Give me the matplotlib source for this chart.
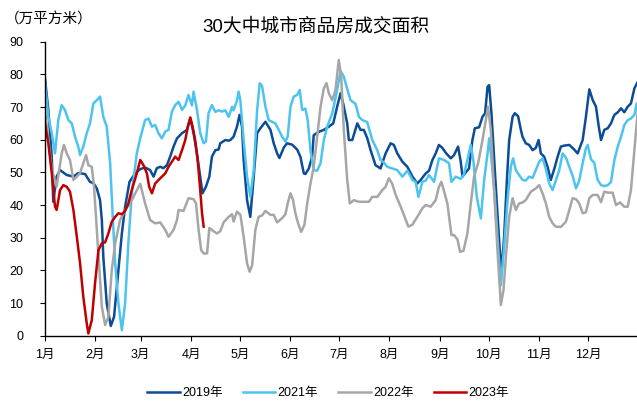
import matplotlib
matplotlib.use("Agg")
import matplotlib.pyplot as plt

plt.rcParams['font.family'] = ['Liberation Sans', 'Noto Sans CJK SC']
plt.rcParams['axes.unicode_minus'] = False

# day of year (0 = Jan 1) and area traded, 10k m2
days_2019 = [0.1, 2.2, 4.3, 5.2, 7.3, 9.4, 13.5, 17.6, 20.6, 24.8, 27.8, 29.9, 32.0, 34.0, 35.1, 36.0,
             38.1, 40.6, 42.6, 45.3, 47.4, 49.4, 52.1, 55.6, 58.7, 61.7, 64.8, 66.9, 68.9, 71.0, 73.0,
             75.1, 77.1, 79.2, 81.3, 84.4, 87.4, 89.5, 91.5, 93.6, 95.6, 97.0, 99.1, 101.2, 102.8,
             104.9, 106.9, 107.9, 111.0, 113.1, 114.1, 116.1, 118.2, 119.8, 121.3, 122.3, 124.4, 126.4,
             128.5, 130.6, 132.6, 135.7, 138.8, 140.8, 142.9, 144.3, 147.0, 149.0, 152.1, 155.2, 157.2,
             159.3, 160.3, 162.4, 164.4, 165.4, 168.5, 171.6, 174.7, 177.4, 179.8, 181.9, 183.5, 186.0,
             187.0, 189.1, 192.2, 194.2, 196.2, 198.3, 200.4, 203.4, 206.5, 209.6, 212.7, 214.7, 216.8,
             219.9, 223.0, 226.1, 229.1, 231.2, 234.3, 236.3, 238.4, 240.4, 242.4, 244.5, 246.6, 249.7,
             251.7, 254.2, 255.8, 256.9, 258.9, 260.9, 263.0, 264.5, 267.1, 269.2, 270.8, 272.3, 273.3,
             274.7, 276.3, 278.0, 279.7, 280.9, 282.5, 284.2, 285.6, 287.7, 289.1, 291.1, 292.8, 293.8,
             295.8, 297.9, 300.0, 302.0, 303.7, 305.1, 307.1, 309.2, 311.2, 313.3, 315.4, 317.4, 319.5,
             322.6, 325.6, 327.7, 330.8, 332.8, 334.9, 337.0, 339.0, 340.7, 342.1, 344.1, 346.2, 348.2,
             350.3, 352.4, 354.4, 356.4, 358.5, 360.5, 362.6, 364.7]
vals_2019 = [78.8, 69, 54.8, 41, 48.7, 50.7, 49.2, 48.7, 49.8, 49.5, 47.1, 46.7, 45.1, 41.5, 35.4, 24.2,
             9.9, 3.0, 5.8, 20.1, 31.3, 39.5, 47.1, 49.7, 51, 51.5, 50.7, 48.7, 51.3, 51.7, 51.3,
             52.2, 54.8, 57.9, 60.4, 62, 63, 66.5, 62, 55.8, 48.7, 43.6, 45.6, 48.7, 54.8,
             56.8, 57, 58.9, 59.9, 59.7, 59.9, 60.9, 64, 67.6, 64, 53.8, 41.5, 36.4,
             48.7, 62, 63.5, 65.5, 63, 58.9, 55.8, 54.4, 57.6, 58.9, 58.5, 57, 54.8,
             49.7, 49.5, 51.2, 54.8, 61.4, 62.4, 63, 64, 65, 70.1, 74.2, 71.1, 65,
             59.9, 59.9, 65, 63, 63, 60.5, 56.8, 52.2, 51.2, 55.8, 58.9, 58.4, 55.8,
             53.3, 51.7, 48.7, 46.6, 47.7, 49.7, 50.5, 53.8, 55.8, 58.4, 57.5, 56, 54.3,
             55.3, 57.9, 53.3, 48.7, 50, 51.2, 59.9, 63.5, 63.8, 67, 68.1, 76.2, 76.7,
             68.1, 54.8, 40.5, 27.2, 19.5, 30.3, 47.7, 59.9, 67, 68.1, 67.2, 63, 60.9,
             58.9, 58.4, 56.8, 57.5, 59.9, 55.8, 54.8, 51.7, 47.7, 51, 54.8, 57.9, 58.2,
             58.4, 57, 55.8, 59.9, 67, 75.4, 72.1, 70.1, 64, 59.9, 63, 63.5, 65,
             67.6, 68.4, 69.6, 68.4, 70.1, 71.1, 75.7, 77.7]

days_2021 = [0.1, 2.2, 4.3, 6.3, 8.3, 10.4, 12.4, 14.5, 16.6, 18.6, 20.6, 21.7, 23.7, 25.8, 27.8, 29.9,
             32.0, 34.0, 36.0, 38.1, 40.2, 41.8, 43.3, 45.3, 47.4, 49.4, 51.4, 53.5, 56.6, 58.7, 61.7,
             63.8, 65.9, 67.9, 69.9, 72.0, 74.1, 76.1, 78.2, 80.2, 82.3, 84.4, 86.4, 88.4, 90.5, 91.5,
             93.6, 95.6, 97.7, 99.1, 100.7, 102.8, 104.9, 106.9, 109.0, 111.0, 113.1, 115.2, 116.1,
             118.2, 119.2, 120.3, 122.3, 124.4, 126.4, 128.5, 130.6, 132.2, 133.6, 135.7, 137.7, 139.8,
             141.8, 143.9, 146.0, 148.0, 149.4, 151.1, 153.1, 155.2, 156.8, 158.3, 160.3, 161.7, 163.4,
             165.4, 167.5, 169.6, 171.6, 173.7, 176.8, 179.8, 181.9, 183.9, 185.0, 188.0, 191.1, 193.2,
             195.3, 198.3, 201.4, 204.5, 206.5, 208.6, 210.7, 213.7, 216.8, 219.9, 223.0, 226.1, 228.1,
             229.8, 232.2, 234.3, 236.3, 239.4, 242.4, 245.5, 248.6, 250.1, 252.7, 255.8, 257.9, 259.9,
             262.0, 263.6, 265.7, 268.2, 270.2, 272.3, 273.3, 274.7, 276.8, 278.8, 280.5, 282.5, 284.6,
             286.6, 288.0, 289.7, 291.7, 293.8, 295.8, 297.9, 300.0, 302.0, 304.1, 306.2, 308.2, 310.2,
             312.3, 314.3, 316.4, 318.5, 320.5, 322.6, 324.6, 326.7, 328.7, 330.8, 332.8, 333.9, 335.9,
             337.9, 340.0, 342.1, 344.1, 346.2, 348.2, 350.3, 352.4, 354.4, 356.4, 358.5, 360.5, 362.6,
             364.0, 364.9]
vals_2021 = [77.3, 67, 62, 55.8, 66, 70.6, 69.1, 66, 65, 60.9, 57.9, 55.3, 57.9, 62, 65, 71.1,
             72.1, 73.2, 67, 64, 52.8, 36.4, 22.2, 9.9, 1.7, 9.9, 28.3, 43.6, 55.8, 60.5, 66,
             66.5, 64, 64.5, 62, 60.4, 62.5, 63, 68.6, 70.6, 71.6, 69.1, 70.5, 73.7, 70.5, 74.7,
             69.1, 62, 58.9, 59.5, 68.1, 70.6, 68.5, 69, 68.6, 69, 67, 70.1, 69,
             72, 74.7, 72, 59.9, 48.7, 42.5, 50.7, 69.1, 77.3, 76.5, 70.1, 66, 65.5,
             65, 63, 60.9, 59.4, 61, 70.1, 73.2, 73.7, 75.2, 69.1, 69.5, 66, 56.8,
             50.7, 50.5, 52.8, 59.9, 64, 68.1, 75.2, 81.0, 79.3, 77.3, 72.1, 71, 67,
             66, 65.4, 59.9, 56.8, 53.8, 53, 51.7, 51.2, 50.7, 48.7, 50.5, 47.7, 47,
             42.5, 47.1, 47.5, 49.2, 47.1, 54.3, 53.8, 52.8, 47.1, 48.7, 48, 49.5, 53.8,
             58.4, 53.5, 42.5, 35.9, 47.7, 55.8, 60.4, 54, 42.5, 27.2, 15.5, 27.2, 41.5,
             51.7, 54.3, 50.7, 49.2, 47.7, 47.5, 48.7, 48.3, 50.7, 53.3, 54.3, 51, 46.6,
             44.6, 47.5, 50.7, 55.8, 54.5, 51.7, 49, 45.1, 47.5, 52.8, 57.4, 58.4, 54,
             53, 47.7, 46.1, 45.8, 46.1, 47, 53.8, 57.9, 60.9, 64.5, 66, 66.5, 67.6,
             71.1, 69]

days_2022 = [0.1, 2.2, 4.3, 7.3, 10.4, 11.8, 13.5, 15.5, 17.6, 19.7, 21.7, 23.7, 25.4, 26.8, 28.9,
             30.3, 32.0, 33.6, 35.1, 37.1, 39.1, 41.2, 43.3, 46.3, 49.4, 52.5, 55.6, 58.7, 61.7, 64.8,
             67.9, 71.0, 74.1, 76.1, 79.2, 81.3, 82.3, 85.3, 88.4, 91.5, 93.0, 94.6, 96.2, 97.7, 99.8,
             101.2, 103.8, 105.9, 107.9, 110.0, 113.1, 115.2, 116.1, 118.2, 120.3, 122.3, 124.4, 126.0,
             127.5, 129.5, 131.5, 133.6, 135.7, 138.8, 140.8, 142.9, 146.0, 148.0, 149.4, 151.1, 152.7,
             154.1, 155.8, 157.7, 159.7, 161.4, 163.4, 165.4, 167.5, 169.6, 171.6, 173.3, 174.7, 176.8,
             178.8, 180.8, 182.3, 183.9, 186.0, 187.6, 190.1, 193.2, 196.2, 199.3, 201.4, 204.5, 207.6,
             209.6, 211.6, 213.7, 215.8, 218.9, 220.9, 223.6, 226.1, 229.1, 232.2, 234.3, 237.3, 240.4,
             242.4, 243.9, 245.9, 247.6, 250.1, 251.7, 253.8, 255.4, 257.5, 259.9, 262.0, 264.0, 266.5,
             269.2, 271.2, 272.6, 274.3, 276.3, 278.4, 280.5, 282.1, 283.6, 285.6, 287.7, 289.7, 291.7,
             293.8, 295.8, 298.9, 302.0, 304.1, 306.2, 308.2, 310.2, 312.3, 314.3, 317.4, 320.5, 322.6,
             324.6, 326.7, 328.7, 330.8, 332.8, 334.9, 337.0, 340.0, 342.1, 344.1, 346.2, 349.2, 351.3,
             353.8, 356.4, 358.5, 360.5, 361.9, 363.6, 364.9]
vals_2022 = [69, 60, 51, 45.6, 55.8, 58.4, 55.8, 53.8, 47.7, 48.7, 49.8, 52.8, 55.3, 52.2, 51.7,
             45.6, 32.4, 20.1, 8.9, 3.3, 5.8, 20.1, 28.3, 35.4, 38.5, 40.5, 43.6, 46.5, 40.5, 35.4,
             34.4, 34.7, 32.4, 30.3, 32.4, 35.4, 38.5, 38.2, 42.1, 41.8, 40.5, 32.4, 26.2, 25.2, 25.2,
             33, 32, 31.3, 32, 34.7, 36.4, 37.2, 35, 38, 37, 30.3, 22.2, 19.6,
             21.5, 32.4, 36.4, 36.8, 38.2, 37, 37, 34.7, 36, 37.2, 40.5, 43.6, 41.5,
             37.5, 34.4, 31.8, 34, 40.5, 46.6, 51.7, 60.9, 70.1, 75.7, 77.3, 74.2, 72.1,
             75.2, 84.4, 79.3, 63, 47.7, 40.5, 41.5, 41, 41, 41, 42.5, 42.5, 44.6,
             45.6, 48.2, 46.5, 43.1, 39.5, 36.9, 33.4, 34, 36.4, 39, 40, 39.5, 41.5,
             45.6, 47.1, 43.6, 40.5, 30.8, 30.8, 29.5, 25.7, 26, 31.3, 40.5, 48.7, 52.8,
             59.9, 66, 70.1, 63, 44.6, 26.2, 9.4, 14, 24.2, 36.4, 42.1, 38.5, 40.5,
             40.8, 41.5, 44.1, 45.1, 46.1, 43.5, 40.5, 36.4, 34.4, 33.4, 33.3, 34.9, 38.5,
             42.1, 41.8, 40.5, 37.5, 37.8, 42.1, 43.1, 43.1, 40.9, 44.1, 43.8, 43.8, 40,
             40.8, 39.5, 39.5, 44.6, 52.8, 63, 70.1]

days_2023 = [0.1, 2.2, 4.3, 6.3, 7.3, 9.4, 11.4, 13.5, 15.5, 17.6, 19.7, 21.7, 23.7, 25.8, 26.8, 28.9,
             30.9, 33.0, 35.1, 37.1, 39.1, 41.2, 43.3, 45.3, 47.4, 49.4, 51.4, 53.5, 56.6, 58.7, 60.7,
             62.8, 64.2, 65.9, 67.9, 71.0, 74.1, 76.1, 78.2, 80.2, 82.3, 84.4, 86.4, 88.0, 89.5, 90.9,
             92.5, 94.2, 95.6, 96.7, 97.7]
vals_2023 = [65, 58.9, 49.7, 39.5, 38.5, 44.6, 46.1, 45.6, 44.1, 38.5, 30.3, 22.2, 11.9, 3.8, 0.7, 4.8,
             16, 26.2, 28.3, 28.6, 31.3, 34.9, 36.4, 37.5, 37.2, 38.2, 40.5, 44.6, 49.7, 53.8, 52.2,
             49.7, 45.6, 43.6, 46.6, 48.2, 49.7, 51.7, 53.3, 54.8, 53.8, 56.8, 59.9, 64, 66.8, 64,
             59.9, 52.8, 44.6, 37.5, 33.4]

month_starts = [0, 31, 59, 90, 120, 151, 181, 212, 243, 273, 304, 334]
month_labels = ['1月', '2月', '3月', '4月', '5月', '6月', '7月', '8月', '9月', '10月', '11月', '12月']

fig = plt.figure(figsize=(6.37, 4.07), dpi=100)
ax = fig.add_axes([0.0703, 0.175, 0.9317, 0.7226])

ax.plot(days_2019, vals_2019, color='#0B4C97', lw=1.8, label='2019年')
ax.plot(days_2021, vals_2021, color='#4DC3F0', lw=1.8, label='2021年')
ax.plot(days_2022, vals_2022, color='#A6A6A6', lw=1.8, label='2022年')
ax.plot(days_2023, vals_2023, color='#C00000', lw=1.8, label='2023年')

ax.set_xlim(0, 365)
ax.set_ylim(0, 90)
ax.set_yticks(range(0, 91, 10))
ax.set_xticks(month_starts)
ax.set_xticklabels(month_labels)
ax.tick_params(axis='y', direction='out', length=3.5, pad=12, labelsize=9)
ax.tick_params(axis='x', direction='out', length=3.5, pad=6, labelsize=9)

for side in ['top', 'right']:
    ax.spines[side].set_visible(False)
for side in ['left', 'bottom']:
    ax.spines[side].set_linewidth(1)
    ax.spines[side].set_color('black')

fig.text(0.496, 0.934, '30大中城市商品房成交面积', ha='center', va='center', fontsize=13.5)
fig.text(0.008, 0.951, '（万平方米）', ha='left', va='center', fontsize=10.5)

fig.legend(loc='center', bbox_to_anchor=(0.515, 0.034), ncol=4, frameon=False, fontsize=9,
           handlelength=2.6, handletextpad=0.2, columnspacing=1.6)

fig.savefig('out.png', dpi=100)
